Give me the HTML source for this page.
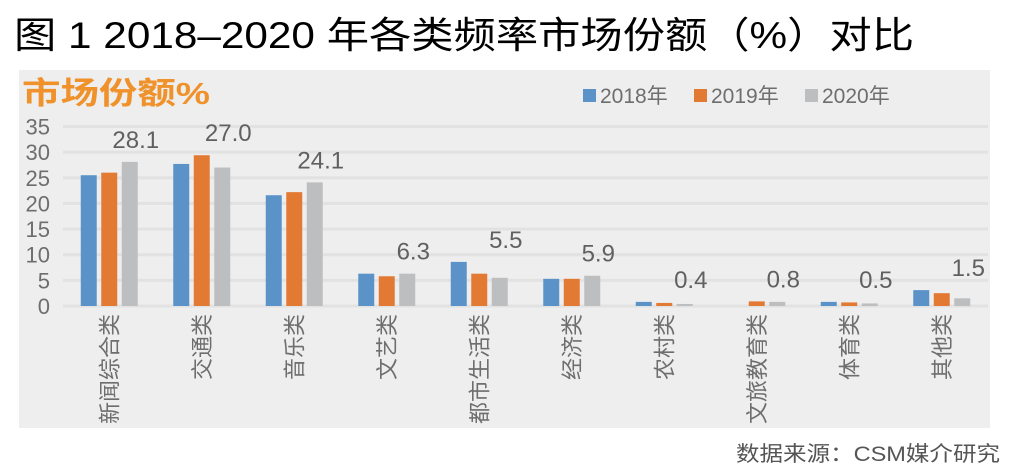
<!DOCTYPE html>
<html><head><meta charset="utf-8"><style>
html,body{margin:0;padding:0;background:#fff;}
svg{display:block;font-family:"Liberation Sans","Noto Sans CJK SC",sans-serif;}
</style></head><body>
<svg id="chart" width="1011" height="472" viewBox="0 0 1011 472">
<text x="14" y="48" font-size="37" fill="#000" textLength="900" lengthAdjust="spacingAndGlyphs">图 1 2018–2020 年各类频率市场份额（%）对比</text>
<rect x="19" y="70" width="971" height="358" fill="#eeeeee"/>
<text x="22" y="104" font-size="31" font-weight="bold" fill="#f0922b" textLength="188" lengthAdjust="spacingAndGlyphs">市场份额%</text>
<g id="grid"></g><g id="yticks"></g><g id="bars"></g><g id="labels"></g><g id="cats"></g>
<g font-size="21" fill="#6e6e6e">
<rect x="583" y="89" width="13" height="13" fill="#5b93c8"/>
<text x="600" y="103">2018年</text>
<rect x="694" y="89" width="13" height="13" fill="#e37a34"/>
<text x="711" y="103">2019年</text>
<rect x="805" y="89" width="13" height="13" fill="#bdbec0"/>
<text x="822" y="103">2020年</text>
</g>
<text x="1000" y="461" font-size="21" fill="#555" text-anchor="end" textLength="264" lengthAdjust="spacingAndGlyphs">数据来源：CSM媒介研究</text>
</svg>
<script>
const categories=["新闻综合类","交通类","音乐类","文艺类","都市生活类","经济类","农村类","文旅教育类","体育类","其他类"];
const s2018=[25.5,27.7,21.6,6.3,8.6,5.3,0.8,0,0.8,3.1];
const s2019=[26.0,29.4,22.2,5.8,6.3,5.3,0.6,0.9,0.7,2.5];
const s2020=[28.1,27.0,24.1,6.3,5.5,5.9,0.4,0.8,0.5,1.5];
const yTicks=[0,5,10,15,20,25,30,35];
const NS="http://www.w3.org/2000/svg";
const x0=63,x1=988,yTop=126.5,yBot=306,ymax=35;
const y=v=>yBot-(v/ymax)*(yBot-yTop);
const band=(x1-x0)/categories.length;
const cx=i=>x0+band*(i+0.5);
function mk(tag,attrs,parent){const e=document.createElementNS(NS,tag);for(const k in attrs)e.setAttribute(k,attrs[k]);document.getElementById(parent).appendChild(e);return e;}
yTicks.forEach(t=>{
  const l=mk('rect',{x:x0,y:y(t)-1.5,width:x1-x0,height:3,fill:'#e2e2e2'},'grid');
  
  
  const tx=mk('text',{x:50,y:y(t)+8,'font-size':22,fill:'#6e6e6e','text-anchor':'end'},'yticks');
  tx.textContent=t;
  
  
});
const series=[[s2018,'#5b93c8','2018'],[s2019,'#e37a34','2019'],[s2020,'#bdbec0','2020']];
const bw=16,step=20.5;
categories.forEach((c,i)=>{
  series.forEach((s,j)=>{
    const v=s[0][i];
    const bx=cx(i)+(j-1)*step-bw/2;
    const r=mk('rect',{x:bx,y:y(v),width:bw,height:yBot-y(v),fill:s[1]},'bars');
    
    
  });
  const lv=s2020[i];
  const lt=mk('text',{x:cx(i)+step+6,y:Math.min(y(lv)-14,y(Math.max(lv,s2019[i],s2018[i]))-14),'font-size':24,fill:'#606060','text-anchor':'middle'},'labels');
  lt.textContent=lv.toFixed(1);
  
  
  const ct=mk('text',{x:0,y:0,'font-size':22,fill:'#6e6e6e','text-anchor':'end',transform:'translate('+(cx(i)+8)+',314) rotate(-90)'},'cats');
  ct.textContent=c;
  
  
});
</script>
</body></html>
